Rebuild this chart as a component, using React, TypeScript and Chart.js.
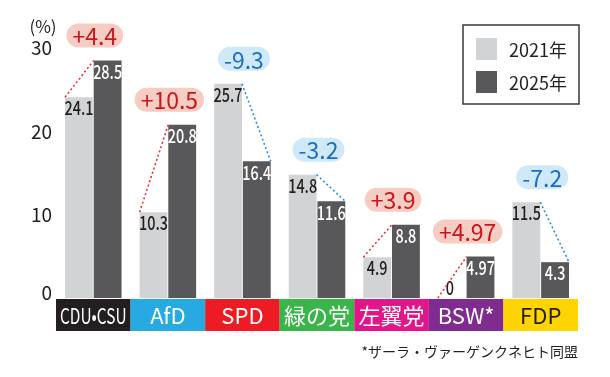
import React, { useEffect, useRef } from "react";
import { Chart, registerables } from "chart.js";

Chart.register(...registerables);

const categories = ["CDU•CSU", "AfD", "SPD", "緑の党", "左翼党", "BSW*", "FDP"];
const values2021 = [24.1, 10.3, 25.7, 14.8, 4.9, 0, 11.5];
const values2025 = [28.5, 20.8, 16.4, 11.6, 8.8, 4.97, 4.3];
const labels2021 = ["24.1", "10.3", "25.7", "14.8", "4.9", "0", "11.5"];
const labels2025 = ["28.5", "20.8", "16.4", "11.6", "8.8", "4.97", "4.3"];
const changes = ["+4.4", "+10.5", "-9.3", "-3.2", "+3.9", "+4.97", "-7.2"];
const partyColors = ["#231f20", "#27aae1", "#ed1c24", "#39b54a", "#e0168a", "#7f2b90", "#ffd400"];
const partyTextColors = ["#ffffff", "#ffffff", "#ffffff", "#ffffff", "#ffffff", "#ffffff", "#231f20"];
const seriesLabels = ["2021年", "2025年"];
const seriesColors = ["#d1d3d4", "#58585a"];
const yTicks = [0, 10, 20, 30];
const unitLabel = "(%)";
const footnote = "*ザーラ・ヴァーゲンクネヒト同盟";

const FONT = '"Noto Sans CJK JP", "Noto Sans", sans-serif';
const TEXT = "#231f20";

function roundRect(ctx: CanvasRenderingContext2D, x: number, y: number, w: number, h: number, r: number) {
  ctx.beginPath();
  ctx.moveTo(x + r, y);
  ctx.lineTo(x + w - r, y);
  ctx.arc(x + w - r, y + r, r, -Math.PI / 2, 0);
  ctx.lineTo(x + w, y + h - r);
  ctx.arc(x + w - r, y + h - r, r, 0, Math.PI / 2);
  ctx.lineTo(x + r, y + h);
  ctx.arc(x + r, y + h - r, r, Math.PI / 2, Math.PI);
  ctx.lineTo(x, y + r);
  ctx.arc(x + r, y + r, r, Math.PI, Math.PI * 1.5);
  ctx.closePath();
}

const overlay = {
  id: "overlay",
  afterDatasetsDraw(chart: any) {
    const ctx: CanvasRenderingContext2D = chart.ctx;
    const xs = chart.scales.x;
    const ys = chart.scales.y;
    const area = chart.chartArea;
    const m0 = chart.getDatasetMeta(0);
    const m1 = chart.getDatasetMeta(1);
    const n = categories.length;
    const catW = (area.right - area.left) / n;

    ctx.save();
    ctx.textBaseline = "middle";
    ctx.textAlign = "center";

    for (let i = 0; i < n; i++) {
      const b0 = m0.data[i].getProps(["x", "y", "base", "width"], true);
      const b1 = m1.data[i].getProps(["x", "y", "base", "width"], true);
      const up = values2025[i] >= values2021[i];

      // bar value labels (condensed)
      const drawVal = (txt: string, x: number, y: number, color: string) => {
        ctx.save();
        ctx.translate(x, y);
        ctx.scale(0.76, 1);
        ctx.font = `500 19px ${FONT}`;
        ctx.fillStyle = color;
        ctx.fillText(txt, 0, 0);
        ctx.restore();
      };
      if (values2021[i] === 0) drawVal(labels2021[i], b0.x - 2, b0.y - 10, TEXT);
      else drawVal(labels2021[i], b0.x, b0.y + 11, TEXT);
      drawVal(labels2025[i], b1.x, b1.y + 11, "#ffffff");

      // dotted connector
      const hw0 = b0.width / 2;
      const hw1 = b1.width / 2;
      ctx.save();
      ctx.strokeStyle = up ? "#e8323c" : "#2a8fd8";
      ctx.lineWidth = 1.6;
      ctx.setLineDash([2, 2.5]);
      ctx.beginPath();
      if (up) {
        ctx.moveTo(b0.x - hw0, b0.y);
        ctx.lineTo(b1.x - hw1, b1.y);
      } else {
        ctx.moveTo(b0.x + hw0, b0.y);
        ctx.lineTo(b1.x + hw1, b1.y);
      }
      ctx.stroke();
      ctx.restore();

      // change pill
      const cx = xs.getPixelForValue(i) + 1.5;
      const top = Math.min(b0.y, b1.y);
      const cy = top - 25;
      ctx.font = `23px ${FONT}`;
      const tw = ctx.measureText(changes[i]).width;
      const pw = tw + 12;
      const ph = 24;
      roundRect(ctx, cx - pw / 2, cy - ph / 2, pw, ph, 12);
      ctx.fillStyle = up ? "#f5cdc3" : "#cfe9f9";
      ctx.fill();
      ctx.fillStyle = up ? "#c8161d" : "#1b6fbf";
      ctx.fillText(changes[i], cx, cy + 1);

      // category box
      const left = xs.getPixelForValue(i) - catW / 2;
      ctx.fillStyle = partyColors[i];
      ctx.fillRect(left, area.bottom + 1, catW, 32);
      ctx.fillStyle = partyTextColors[i];
      ctx.font = `22px ${FONT}`;
      ctx.fillText(categories[i], left + catW / 2, area.bottom + 17.5, catW - 8);
    }

    // y tick labels
    ctx.font = `19px ${FONT}`;
    ctx.fillStyle = TEXT;
    ctx.textAlign = "right";
    for (const t of yTicks) {
      const y = ys.getPixelForValue(t) + (t === 0 ? -5 : 0);
      ctx.fillText(String(t), area.left - 4, y);
    }
    ctx.font = `17px ${FONT}`;
    ctx.textAlign = "center";
    ctx.fillText(unitLabel, 43, 27);

    // legend
    const lx = 463, ly = 25, lw = 116, lh = 79;
    ctx.strokeStyle = "#3a3a3a";
    ctx.lineWidth = 1.5;
    ctx.strokeRect(lx, ly, lw, lh);
    ctx.textAlign = "left";
    ctx.font = `18px ${FONT}`;
    for (let s = 0; s < 2; s++) {
      const sy = ly + 13 + s * 33;
      ctx.fillStyle = seriesColors[s];
      ctx.fillRect(lx + 13, sy, 21, 22);
      ctx.fillStyle = TEXT;
      ctx.fillText(seriesLabels[s], lx + 46, sy + 12);
    }

    // footnote
    ctx.font = `14px ${FONT}`;
    ctx.textAlign = "right";
    ctx.fillStyle = TEXT;
    ctx.fillText(footnote, area.right, 352);

    ctx.restore();
  },
};

export default function App() {
  const ref = useRef<HTMLCanvasElement>(null);
  useEffect(() => {
    if (!ref.current) return;
    const chart = new Chart(ref.current, {
      type: "bar",
      data: {
        labels: categories,
        datasets: [
          { label: seriesLabels[0], data: values2021, backgroundColor: seriesColors[0] },
          { label: seriesLabels[1], data: values2025, backgroundColor: seriesColors[1] },
        ],
      },
      options: {
        responsive: false,
        animation: false,
        devicePixelRatio: 1,
        layout: { padding: { left: 56, right: 32, top: 48, bottom: 79 } },
        datasets: { bar: { categoryPercentage: 0.77, barPercentage: 0.97 } },
        scales: {
          x: { display: false, grid: { display: false } },
          y: { display: false, min: 0, max: 30, grid: { display: false } },
        },
        plugins: { legend: { display: false }, tooltip: { enabled: false } },
      },
      plugins: [overlay],
    });
    return () => chart.destroy();
  }, []);
  return (
    <div style={{ position: "absolute", left: 0, top: 0, width: 610, height: 377, background: "#fff" }}>
      <canvas ref={ref} width={610} height={377} />
    </div>
  );
}
